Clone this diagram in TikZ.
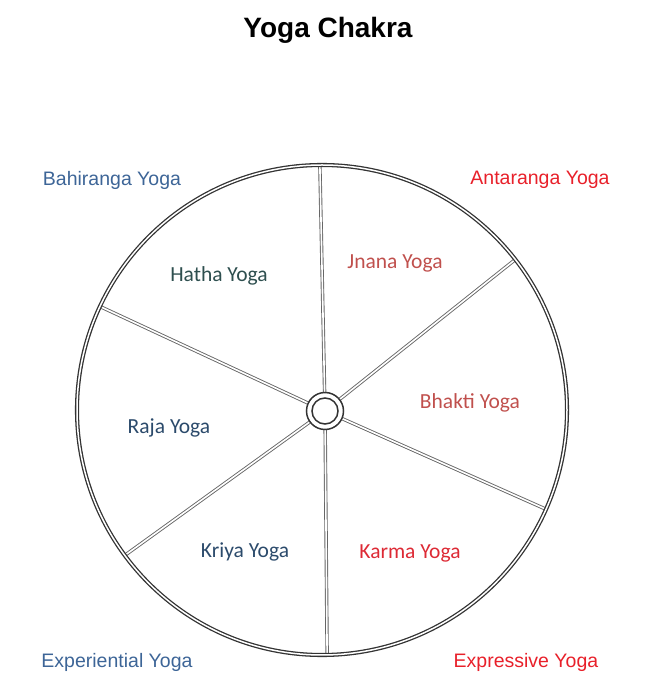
\documentclass[tikz,border=0pt]{standalone}
\usepackage{fontspec}
\setmainfont{Liberation Sans}
\newfontfamily\yogafont{Carlito}
\usepackage{tikz}
\usetikzlibrary{calc}

\begin{document}
\begin{tikzpicture}[x=1pt,y=1pt,
        rim/.style={draw=black!80, line width=1.3pt, double=white, double distance=1.5pt},
        spoke/.style={draw=black!60, line width=0.9pt, double=white, double distance=1.6pt},
        outer/.style={font=\fontsize{19.5}{23}\selectfont},
        inner/.style={font=\yogafont\fontsize{21.5}{25}\selectfont}]

        % Define colors for labels
        \definecolor{outerblue}{RGB}{61,101,151}   % Bahiranga side
        \definecolor{outerred}{RGB}{232,32,42}     % Antaranga side
        \definecolor{hathacol}{RGB}{46,79,79}      % Hatha
        \definecolor{rajacol}{RGB}{43,74,107}      % Raja, Kriya
        \definecolor{jnanacol}{RGB}{192,80,77}     % Jnana, Bhakti
        \definecolor{karmacol}{RGB}{221,42,53}     % Karma

        % Fix the page size
        \useasboundingbox (0,0) rectangle (655,689);

        % Wheel centre and hub
        \coordinate (wheel) at (322,279);
        \coordinate (hub) at (325,278);

        % Points where the spokes meet the rim
        \coordinate (rimN)  at ($(wheel)+(90.5:245)$);
        \coordinate (rimNE) at ($(wheel)+(37.9:245)$);
        \coordinate (rimSE) at ($(wheel)+(-23.9:245)$);
        \coordinate (rimS)  at ($(wheel)+(-88.8:245)$);
        \coordinate (rimSW) at ($(wheel)+(216.4:245)$);
        \coordinate (rimNW) at ($(wheel)+(155:245)$);

        % Draw spokes
        \foreach \p in {rimN,rimNE,rimSE,rimS,rimSW,rimNW}
            \draw[spoke] (hub) -- (\p);

        % Draw rim
        \draw[rim] (wheel) circle (245);

        % Draw hub
        \fill[white] (hub) circle (19);
        \draw[black!80, line width=1.5pt] (hub) circle (18.5); % Outer ring
        \draw[black!80, line width=1.5pt] (hub) circle (13);   % Inner ring

        % Title
        \node[font=\bfseries\fontsize{28}{32}\selectfont] (title) at (328,659) {Yoga Chakra};

        % Corner labels
        \node[outer, text=outerblue] (bahiranga) at (112,509) {Bahiranga Yoga};
        \node[outer, text=outerred] (antaranga) at (540,509) {Antaranga Yoga};
        \node[outer, text=outerblue] (experiential) at (117,27) {Experiential Yoga};
        \node[outer, text=outerred] (expressive) at (526,27) {Expressive Yoga};

        % Segment labels
        \node[inner, text=hathacol] (hatha) at (219,413) {Hatha Yoga};
        \node[inner, text=jnanacol] (jnana) at (395,426) {Jnana Yoga};
        \node[inner, text=jnanacol] (bhakti) at (470,286) {Bhakti Yoga};
        \node[inner, text=rajacol] (raja) at (169,261) {Raja Yoga};
        \node[inner, text=rajacol] (kriya) at (245,137) {Kriya Yoga};
        \node[inner, text=karmacol] (karma) at (410,136) {Karma Yoga};
        \end{tikzpicture}
\end{document}
